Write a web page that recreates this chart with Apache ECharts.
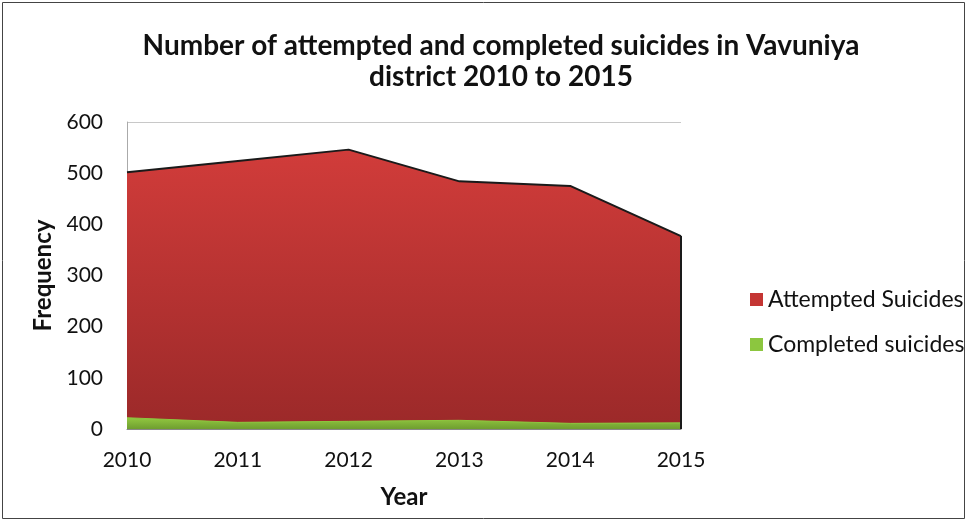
<!DOCTYPE html>
<html><head><meta charset="utf-8">
<script src="https://cdn.jsdelivr.net/npm/echarts@6/dist/echarts.min.js"></script>
<style>html,body{margin:0;padding:0;background:#fff}#c{width:968px;height:521px}</style>
</head><body><div id="c"></div>
<script>
const years = ['2010','2011','2012','2013','2014','2015'];
const attempted = [502, 524, 546, 484, 475, 377];
const completed = [22, 13, 15, 17, 11, 12];
const yTicks = [0, 100, 200, 300, 400, 500, 600];

const chart = echarts.init(document.getElementById('c'));
const F = 'Lato, "Open Sans", sans-serif';
const gridColors = yTicks.map((v, i) => i === yTicks.length - 1 ? '#c8c8c8' : 'rgba(0,0,0,0)');
const last = years.length - 1;
chart.setOption({
  animation: false,
  backgroundColor: '#fff',
  title: {
    text: 'Number of attempted and completed suicides in Vavuniya\ndistrict 2010 to 2015',
    left: 496, top: 25, textAlign: 'center',
    textStyle: {fontFamily: F, fontSize: 28, fontWeight: 'bold', color: '#111', lineHeight: 31}
  },
  legend: {
    orient: 'vertical', left: 745, top: 283, itemGap: 22,
    itemWidth: 13, itemHeight: 13, icon: 'rect',
    textStyle: {fontFamily: F, fontSize: 23, color: '#111'},
    data: ['Attempted Suicides', 'Completed suicides']
  },
  grid: {left: 127, right: 287, top: 122, bottom: 92},
  xAxis: {
    type: 'category', data: years, boundaryGap: false,
    name: 'Year', nameLocation: 'middle', nameGap: 56,
    nameTextStyle: {fontFamily: F, fontSize: 24, fontWeight: 'bold', color: '#111'},
    axisLine: {lineStyle: {color: '#888', width: 1}},
    axisTick: {show: false},
    axisLabel: {fontFamily: F, fontSize: 21, color: '#111', margin: 21}
  },
  yAxis: {
    type: 'value', min: yTicks[0], max: yTicks[yTicks.length-1], interval: 100,
    name: 'Frequency', nameLocation: 'middle', nameGap: 71, nameRotate: 90,
    nameTextStyle: {fontFamily: F, fontSize: 24, fontWeight: 'bold', color: '#111'},
    axisLine: {show: true, lineStyle: {color: '#aaa'}},
    axisTick: {show: false},
    splitLine: {lineStyle: {color: gridColors}},
    axisLabel: {fontFamily: F, fontSize: 21, color: '#111', margin: 24}
  },
  series: [
    {
      name: 'Attempted Suicides', type: 'line', data: attempted,
      symbol: 'none', z: 2,
      itemStyle: {color: '#c43533'},
      lineStyle: {color: '#1a1a1a', width: 2},
      areaStyle: {opacity: 1, color: new echarts.graphic.LinearGradient(0,0,0,1,[
        {offset: 0, color: '#d13c3a'}, {offset: 1, color: '#9b2929'}])},
      markLine: {
        silent: true, symbol: 'none', label: {show: false},
        lineStyle: {color: '#1a1a1a', width: 2, type: 'solid'},
        data: [[{coord: [years[last], 0]}, {coord: [years[last], attempted[last]]}]]
      }
    },
    {
      name: 'Completed suicides', type: 'line', data: completed,
      symbol: 'none', z: 3,
      itemStyle: {color: '#8cc63f'},
      lineStyle: {color: '#8cc63f', width: 1},
      areaStyle: {opacity: 1, color: new echarts.graphic.LinearGradient(0,0,0,1,[
        {offset: 0, color: '#92c840'}, {offset: 1, color: '#6f9e30'}])}
    }
  ],
  graphic: [{
    type: 'rect', shape: {x: 2.5, y: 2.5, width: 962, height: 516},
    style: {fill: 'none', stroke: '#444', lineWidth: 1}, silent: true
  }]
});
</script></body></html>
